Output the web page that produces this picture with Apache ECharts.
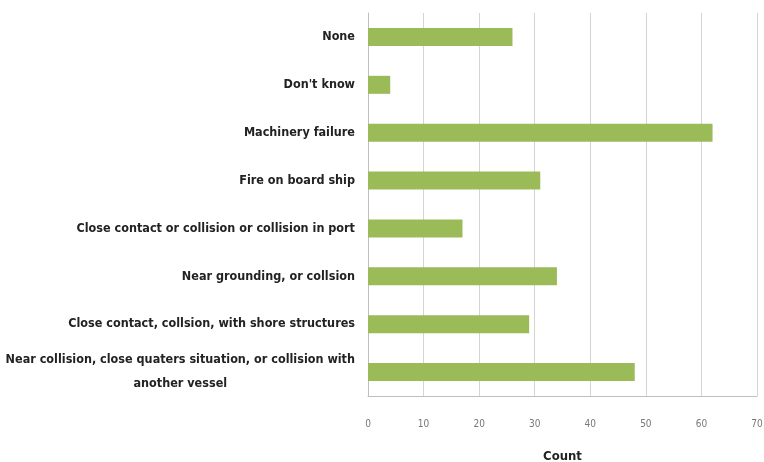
<!DOCTYPE html>
<html><head><meta charset="utf-8">
<script src="https://cdn.jsdelivr.net/npm/echarts@6/dist/echarts.min.js"></script>
<style>html,body{margin:0;padding:0;background:#fff}#c{width:764px;height:462px}</style>
</head><body><div id="c"></div>
<script>
const categories = ["None", "Don't know", "Machinery failure", "Fire on board ship",
  "Close contact or collision or collision in port", "Near grounding, or collsion",
  "Close contact, collsion, with shore structures",
  "Near collision, close quaters situation, or collision with\nanother vessel"];
const counts = [26, 4, 62, 31, 17, 34, 29, 48];
const xTicks = {min: 0, max: 70, interval: 10};
const xTitle = "Count";

const FONT = "'DejaVu Sans Condensed', 'Liberation Sans', sans-serif";
const chart = echarts.init(document.getElementById('c'));
chart.setOption({
  animation: false,
  grid: {left: 368, right: 7, top: 13, bottom: 66, containLabel: false, outerBoundsMode: 'none'},
  xAxis: {
    type: 'value', min: xTicks.min, max: xTicks.max, interval: xTicks.interval,
    name: xTitle, nameLocation: 'middle', nameGap: 54,
    nameTextStyle: {fontFamily: FONT, fontSize: 13, fontWeight: 'bold', color: '#222'},
    axisLine: {show: true, lineStyle: {color: '#bfbfbf'}},
    axisTick: {show: false},
    axisLabel: {fontFamily: FONT, fontSize: 10, color: '#777', margin: 23},
    splitLine: {show: true, lineStyle: {color: '#d4d4d4', width: 1}}
  },
  yAxis: {
    type: 'category', data: categories, inverse: true,
    axisLine: {show: true, lineStyle: {color: '#bfbfbf'}},
    axisTick: {show: false},
    axisLabel: {
      margin: 13, align: 'right',
      formatter: v => v.split('\n').map(s => '{c|' + s + '}').join('\n'),
      rich: {c: {fontFamily: FONT, fontSize: 12.5, fontWeight: 'bold', color: '#222', align: 'center', lineHeight: 24}}
    }
  },
  series: [{
    type: 'bar', data: counts, barWidth: 18,
    itemStyle: {color: '#9bbb59'}
  }]
});
</script></body></html>
